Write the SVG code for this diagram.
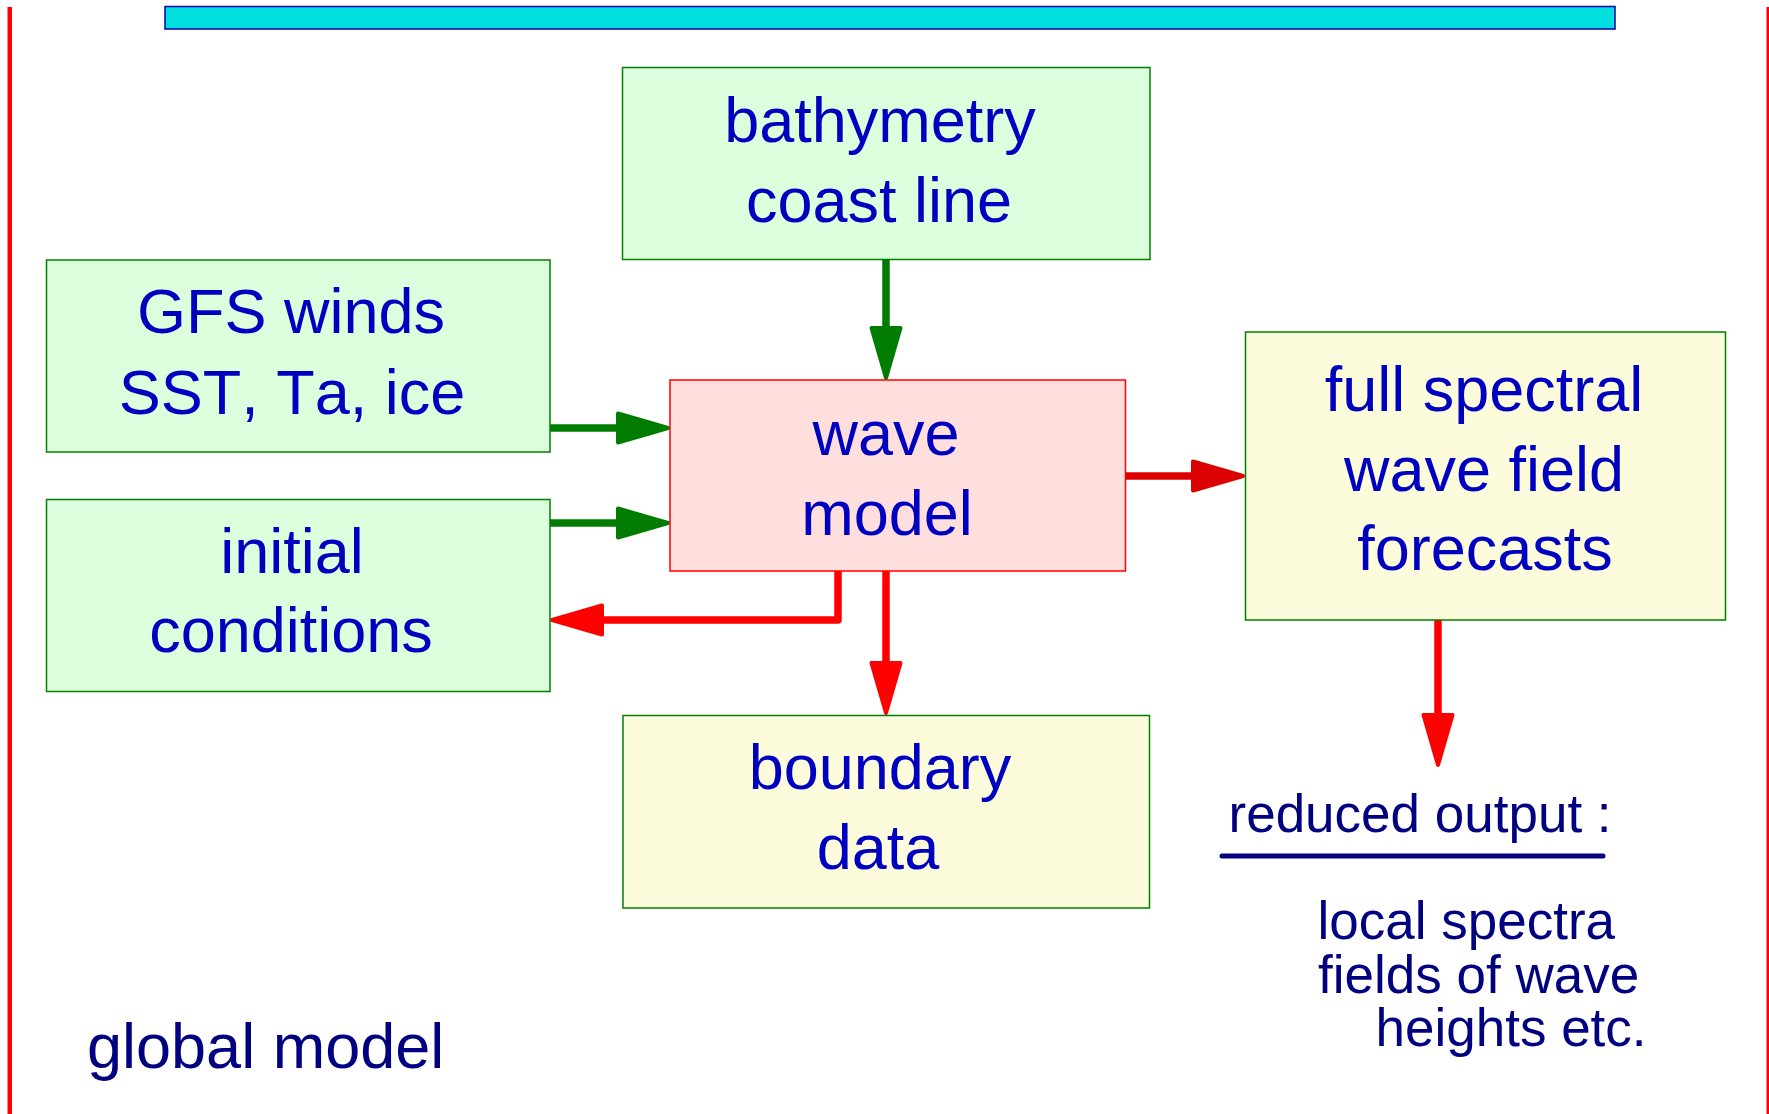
<svg xmlns="http://www.w3.org/2000/svg" width="1769" height="1114" viewBox="0 0 1769 1114">
<style>
text{font-kerning:none}
.box-g{fill:#ddffdd;stroke:#008000;stroke-width:1.5}
.box-y{fill:#fcfcdc;stroke:#008000;stroke-width:1.5}
.box-r{fill:#ffdede;stroke:#ff0000;stroke-width:1.5}
.t{font-family:"Liberation Sans",Arial,Helvetica,sans-serif;font-size:63px;fill:#0000c0;text-anchor:middle}
.n{font-family:"Liberation Sans",Arial,Helvetica,sans-serif;fill:#000080}
.cg{fill:none;stroke:#007c00;stroke-width:7.5}
.cr{fill:none;stroke:#ff0000;stroke-width:7.5}
.cd{fill:none;stroke:#dd0000;stroke-width:7.5}
</style>
<defs>
<marker id="ag" markerUnits="userSpaceOnUse" markerWidth="60" markerHeight="40" refX="0" refY="0" orient="auto" overflow="visible">
<path d="M-2,-14.5 L48,0 L-2,14.5 Z" fill="#007c00" stroke="#007c00" stroke-width="4" stroke-linejoin="round"/>
</marker>
<marker id="ar" markerUnits="userSpaceOnUse" markerWidth="60" markerHeight="40" refX="0" refY="0" orient="auto" overflow="visible">
<path d="M-2,-14.5 L48,0 L-2,14.5 Z" fill="#ff0000" stroke="#ff0000" stroke-width="4" stroke-linejoin="round"/>
</marker>
<marker id="ad" markerUnits="userSpaceOnUse" markerWidth="60" markerHeight="40" refX="0" refY="0" orient="auto" overflow="visible">
<path d="M-2,-14.5 L48,0 L-2,14.5 Z" fill="#dd0000" stroke="#dd0000" stroke-width="4" stroke-linejoin="round"/>
</marker>
</defs>
<rect x="0" y="0" width="1769" height="1114" fill="#ffffff"/>
<g id="frame">
<rect x="7.5" y="7" width="4.5" height="1107" fill="#ff0000"/>
<rect x="1766.5" y="7" width="2.5" height="1107" fill="#ff0000"/>
<rect x="165" y="6.5" width="1450" height="22.5" fill="#00dede" stroke="#0000aa" stroke-width="1.5"/>
</g>
<g id="connectors">
<path class="cg" d="M886,260 V330" marker-end="url(#ag)"/>
<path class="cg" d="M550,428 H620" marker-end="url(#ag)"/>
<path class="cg" d="M550,523 H620" marker-end="url(#ag)"/>
<path class="cd" d="M1126,476 H1195" marker-end="url(#ad)"/>
<path class="cr" d="M838,571 V620 H600" stroke-linejoin="round" marker-end="url(#ar)"/>
<path class="cr" d="M886,571 V665" marker-end="url(#ar)"/>
<path class="cr" d="M1438,620 V717" marker-end="url(#ar)"/>
</g>
<g id="bathymetry">
<rect class="box-g" x="622.5" y="67.5" width="527.5" height="192"/>
<text class="t" x="880" y="142">bathymetry</text>
<text class="t" x="879" y="222">coast line</text>
</g>
<g id="gfs">
<rect class="box-g" x="46.5" y="260" width="503.5" height="192"/>
<text class="t" x="291" y="333">GFS winds</text>
<text class="t" x="292" y="414">SST, Ta, ice</text>
</g>
<g id="initial">
<rect class="box-g" x="46.5" y="499.5" width="503.5" height="192"/>
<text class="t" x="292" y="573">initial</text>
<text class="t" x="291" y="652">conditions</text>
</g>
<g id="wavemodel">
<rect class="box-r" x="670" y="380" width="455.5" height="191"/>
<text class="t" x="886" y="455">wave</text>
<text class="t" x="887" y="535">model</text>
</g>
<g id="forecasts">
<rect class="box-y" x="1245.5" y="332" width="480" height="288"/>
<text class="t" x="1484" y="411">full spectral</text>
<text class="t" x="1484" y="491">wave field</text>
<text class="t" x="1485" y="570">forecasts</text>
</g>
<g id="boundary">
<rect class="box-y" x="623" y="715.5" width="526.5" height="192.5"/>
<text class="t" x="880" y="789">boundary</text>
<text class="t" x="878" y="869">data</text>
</g>
<g id="reduced">
<text class="n" x="1228.5" y="832" font-size="53">reduced output :</text>
<line x1="1222" y1="856" x2="1603" y2="856" stroke="#000080" stroke-width="5" stroke-linecap="round"/>
<text class="n" x="1317.5" y="939" font-size="53">local spectra</text>
<text class="n" x="1318" y="993" font-size="53">fields of wave</text>
<text class="n" x="1375.5" y="1046" font-size="53">heights etc.</text>
</g>
<g id="label">
<text class="n" x="87" y="1068" font-size="63">global model</text>
</g>
</svg>
